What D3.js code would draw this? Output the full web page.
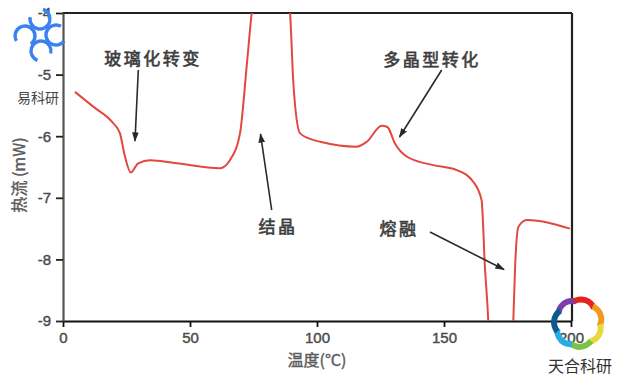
<!DOCTYPE html>
<html><head><meta charset="utf-8">
<script src="https://cdn.jsdelivr.net/npm/d3@7"></script>
<style>
html,body{margin:0;padding:0;background:#fff;}
svg{display:block;}
text{font-family:"Liberation Sans","Noto Sans CJK SC",sans-serif;}
.cjk{font-family:"Noto Sans CJK SC",sans-serif;}
</style></head>
<body>
<svg id="chart" width="618" height="383"></svg>
<script>
// ---- data ----
const temps = [4.7, 11.9, 19.8, 22.4, 24.4, 26.7, 29.6, 34.3, 44.8, 61.8, 65.7, 69.7, 72.3, 74.3, 75.6, 88.3, 89.4, 90.7, 93.3, 98.5, 101.2, 115.6, 119.6, 125.5, 127.7, 130.7, 135.3, 145.7, 155.0, 161.5, 164.8, 166.1, 167.4, 167.8, 177.0, 177.3, 178.0, 179.3, 182.6, 199.6];
const heatFlow = [-5.28, -5.52, -5.79, -5.95, -6.33, -6.59, -6.44, -6.39, -6.44, -6.52, -6.39, -5.95, -4.87, -4.0, -3.6, -3.6, -4.0, -5.14, -5.95, -6.06, -6.09, -6.17, -6.09, -5.83, -5.85, -6.12, -6.33, -6.47, -6.55, -6.74, -7.04, -8.12, -8.98, -9.4, -9.4, -8.98, -8.12, -7.47, -7.36, -7.50];
const xTicks = [0, 50, 100, 150, 200];
const yTicks = [-9, -8, -7, -6, -5, -4];
const annoLabels = ["玻璃化转变", "结晶", "多晶型转化", "熔融"];
const annoAnchors = [[153, 57], [278, 225], [432, 58], [399, 227]];
const annoArrows = [[[138.3, 70], [135, 141]], [[271.7, 210], [260.5, 134]], [[441.7, 70], [399.5, 137]], [[430, 232], [504, 269.5]]];
const xLabel = "温度(°C)";
const yLabel = "热流 (mW)";

// ---- layout ----
const svg = d3.select("#chart");
const L = 63, R = 572, T = 13, B = 321;
const x = d3.scaleLinear().domain([0, 200]).range([L, R - 1]);
const y = d3.scaleLinear().domain([-9, -4]).range([B, T]);

svg.append("defs").append("clipPath").attr("id", "clip")
  .append("rect").attr("x", L).attr("y", T).attr("width", R - L).attr("height", B - T);

const marker = svg.select("defs").append("marker").attr("id", "ah")
  .attr("viewBox", "0 0 10 10").attr("refX", 9).attr("refY", 5)
  .attr("markerWidth", 6).attr("markerHeight", 6).attr("orient", "auto")
  .attr("markerUnits", "strokeWidth");
marker.append("path").attr("d", "M0,1.5 L10,5 L0,8.5 Z").attr("fill", "#2a2a2a");

// frame top/right
svg.append("line").attr("x1", L).attr("x2", R).attr("y1", T).attr("y2", T).attr("stroke", "#222").attr("stroke-width", 2.2);
svg.append("line").attr("x1", R).attr("x2", R).attr("y1", T).attr("y2", B).attr("stroke", "#222").attr("stroke-width", 2.2);

// axes
const xAxis = svg.append("g").attr("transform", `translate(0,${B})`)
  .call(d3.axisBottom(x).tickValues(xTicks).tickSize(6).tickPadding(5).tickSizeOuter(0));
xAxis.select(".domain").attr("stroke", "#111").attr("stroke-width", 2.2);
xAxis.selectAll(".tick line").attr("stroke", "#111").attr("stroke-width", 1.8);
xAxis.selectAll("text").attr("font-size", 15).attr("fill", "#4a4a4a").attr("stroke", "#4a4a4a").attr("stroke-width", 0.4).attr("dy", "0.75em");

const yAxis = svg.append("g").attr("transform", `translate(${L},0)`)
  .call(d3.axisLeft(y).tickValues(yTicks).tickSize(7).tickPadding(5).tickSizeOuter(0).tickFormat(d => d));
yAxis.select(".domain").attr("stroke", "#555").attr("stroke-width", 2.2);
yAxis.selectAll(".tick line").attr("stroke", "#222").attr("stroke-width", 1.8);
yAxis.selectAll("text").attr("font-size", 15).attr("fill", "#4a4a4a").attr("stroke", "#4a4a4a").attr("stroke-width", 0.4);

// axis titles
svg.append("text").attr("class", "cjk").attr("x", 317).attr("y", 366).attr("text-anchor", "middle")
  .attr("font-size", 16).attr("fill", "#5a5a5a").attr("stroke", "#5a5a5a").attr("stroke-width", 0.4).text(xLabel);
svg.append("text").attr("class", "cjk").attr("transform", "translate(25,175) rotate(-90)").attr("text-anchor", "middle")
  .attr("font-size", 16).attr("fill", "#5a5a5a").attr("stroke", "#5a5a5a").attr("stroke-width", 0.4).text(yLabel);

// curve
const pts = temps.map((t, i) => [t, heatFlow[i]]);
svg.append("path").datum(pts).attr("clip-path", "url(#clip)")
  .attr("fill", "none").attr("stroke", "#e2483e").attr("stroke-width", 2)
  .attr("d", d3.line().x(d => x(d[0])).y(d => y(d[1])).curve(d3.curveMonotoneX));

// annotations
annoLabels.forEach((lab, i) => {
  svg.append("text").attr("class", "cjk").attr("x", annoAnchors[i][0]).attr("y", annoAnchors[i][1])
    .attr("text-anchor", "middle").attr("dominant-baseline", "central")
    .attr("font-size", 17).attr("letter-spacing", 2.5)
    .attr("fill", "#3d3d3d").attr("stroke", "#3d3d3d").attr("stroke-width", 0.6).text(lab);
  const a = annoArrows[i];
  svg.append("line").attr("x1", a[0][0]).attr("y1", a[0][1]).attr("x2", a[1][0]).attr("y2", a[1][1])
    .attr("stroke", "#2a2a2a").attr("stroke-width", 1.6).attr("marker-end", "url(#ah)");
});

// watermark top-left
const wm = svg.append("g").attr("fill", "none").attr("stroke", "#3b82f0").attr("stroke-width", 3.4).attr("stroke-linecap", "round");
const arc = d3.arc();
[[40, 19, 0.3], [25, 36, 4.2], [56, 35, 2.2], [41, 51, 3.5]].forEach(([cx, cy, s]) => {
  wm.append("path").attr("transform", `translate(${cx},${cy})`)
    .attr("d", arc({innerRadius: 10, outerRadius: 10, startAngle: s, endAngle: s + 4.6}));
});
svg.append("text").attr("class", "cjk").attr("x", 38).attr("y", 103).attr("text-anchor", "middle")
  .attr("font-size", 14).attr("fill", "#444").text("易科研");

// watermark bottom-right
const cols = ["#7b3fb0", "#e52420", "#f39a1e", "#e8d83a", "#7cc245", "#27aee6", "#0f5a8c"];
const wr = svg.append("g").attr("transform", "translate(578,323)");
cols.forEach((c, i) => {
  const a0 = i * (2 * Math.PI / 7) - 0.6;
  const cx = 10 * Math.sin(a0), cy = -10 * Math.cos(a0);
  wr.append("path").attr("transform", `translate(${cx},${cy})`)
    .attr("d", d3.arc()({innerRadius: 11, outerRadius: 17, startAngle: a0 - 0.8, endAngle: a0 + 0.9}))
    .attr("fill", c);
});
svg.append("text").attr("class", "cjk").attr("x", 580).attr("y", 372).attr("text-anchor", "middle")
  .attr("font-size", 16).attr("fill", "#333").text("天合科研");
</script>
</body></html>
